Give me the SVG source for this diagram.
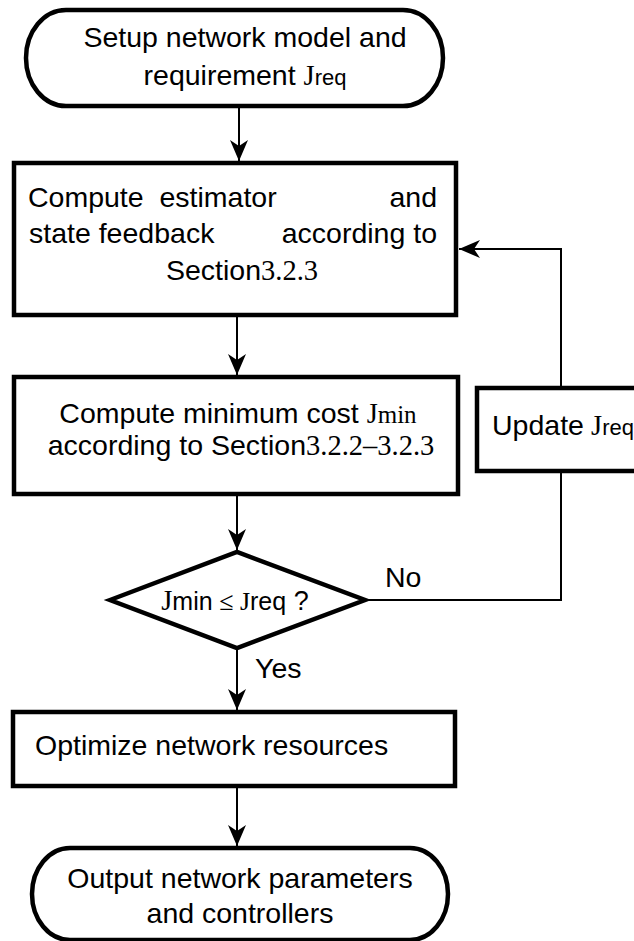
<svg xmlns="http://www.w3.org/2000/svg" width="634" height="941" viewBox="0 0 634 941">
<defs>
<style>
.node{fill:#fff;stroke:#000;stroke-width:4.5}
.t{font-family:"Liberation Sans",Arial,sans-serif;font-size:28.5px;fill:#000}
.m{font-family:"Liberation Serif","Times New Roman",serif}
.sub{font-size:22px}
.conn{fill:none;stroke:#000;stroke-width:2}
</style>
<marker id="ah" markerUnits="userSpaceOnUse" markerWidth="24" markerHeight="20" viewBox="-22 -10 24 20" refX="0" refY="0" orient="auto">
<path d="M0,0 L-21,-9 L-15,0 L-21,9 Z" fill="#000"/>
</marker>
</defs>
<rect width="634" height="941" fill="#fff"/>

<g id="connectors">
<line class="conn" x1="239" y1="106" x2="239" y2="161" marker-end="url(#ah)"/>
<line class="conn" x1="237" y1="315" x2="237" y2="375" marker-end="url(#ah)"/>
<line class="conn" x1="237" y1="494" x2="237" y2="550" marker-end="url(#ah)"/>
<line class="conn" x1="237" y1="648" x2="237" y2="710" marker-end="url(#ah)"/>
<line class="conn" x1="237" y1="786" x2="237" y2="846" marker-end="url(#ah)"/>
<polyline class="conn" points="365,600 561,600 561,471"/>
<polyline class="conn" points="561,388 561,249 459,249" marker-end="url(#ah)"/>
<text class="t" x="385" y="587">No</text>
<text class="t" x="255" y="678">Yes</text>
</g>

<g id="start">
<rect class="node" x="26" y="10" width="417" height="96" rx="40" ry="48"/>
<text class="t" x="245" y="47" text-anchor="middle">Setup network model and</text>
<text class="t" x="245" y="85" text-anchor="middle">requirement <tspan class="m">J</tspan><tspan class="sub">req</tspan></text>
</g>

<g id="compute-estimator">
<rect class="node" x="14" y="163" width="442" height="152"/>
<text class="t" x="28" y="207" xml:space="preserve">Compute  estimator</text>
<text class="t" x="437" y="207" text-anchor="end">and</text>
<text class="t" x="29" y="243">state feedback</text>
<text class="t" x="437" y="243" text-anchor="end">according to</text>
<text class="t" x="242" y="280" text-anchor="middle">Section<tspan class="m">3.2.3</tspan></text>
</g>

<g id="compute-cost">
<rect class="node" x="14" y="377" width="444" height="117"/>
<text class="t" x="238" y="423" text-anchor="middle">Compute minimum cost <tspan class="m">J</tspan><tspan class="m" font-size="25">min</tspan></text>
<text class="t" x="241" y="455" text-anchor="middle">according to Section<tspan class="m">3.2.2–3.2.3</tspan></text>
</g>

<g id="update">
<rect class="node" x="477" y="388" width="170" height="83"/>
<text class="t" x="492" y="435">Update<tspan class="m"> J</tspan><tspan class="sub">req</tspan></text>
</g>

<g id="decision">
<polygon class="node" points="110,600 237,552 365,600 237,648"/>
<text class="t" x="235" y="610" text-anchor="middle"><tspan class="m">J</tspan><tspan font-size="25">min</tspan><tspan class="m" font-size="26"> ≤ J</tspan><tspan font-size="25">req</tspan><tspan font-size="27"> ?</tspan></text>
</g>

<g id="optimize">
<rect class="node" x="13" y="712" width="442" height="74"/>
<text class="t" x="35" y="755">Optimize network resources</text>
</g>

<g id="end">
<rect class="node" x="32" y="848" width="416" height="92" rx="38" ry="46"/>
<text class="t" x="240" y="888" text-anchor="middle">Output network parameters</text>
<text class="t" x="240" y="923" text-anchor="middle">and controllers</text>
</g>
</svg>
